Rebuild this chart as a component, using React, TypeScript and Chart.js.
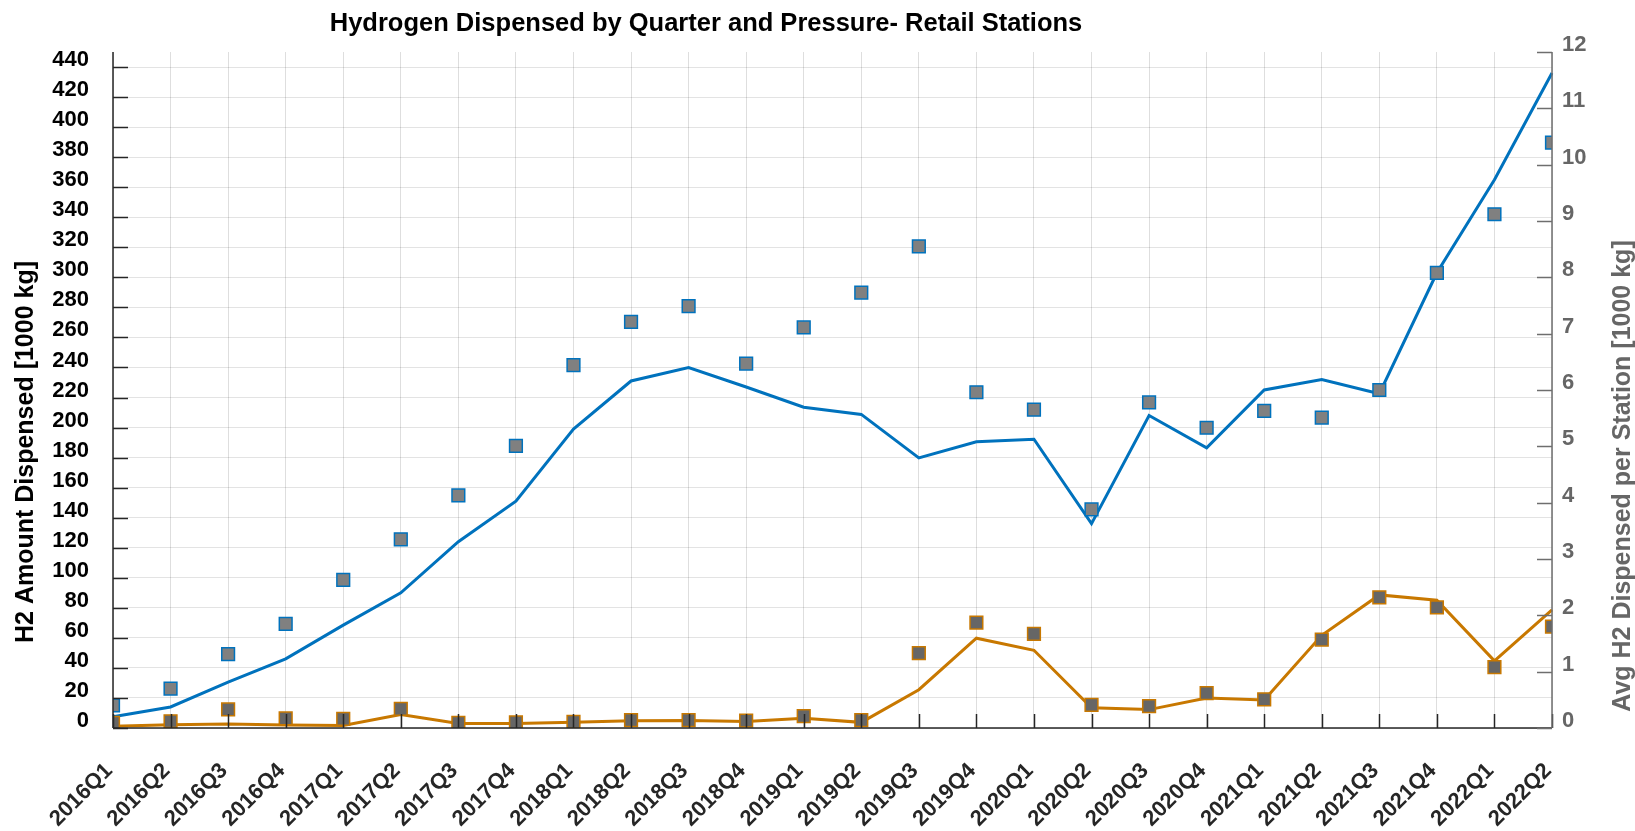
import React, { useEffect, useRef } from "react";
import { Chart, registerables } from "chart.js";

Chart.register(...registerables);

const quarters = [
  "2016Q1", "2016Q2", "2016Q3", "2016Q4",
  "2017Q1", "2017Q2", "2017Q3", "2017Q4",
  "2018Q1", "2018Q2", "2018Q3", "2018Q4",
  "2019Q1", "2019Q2", "2019Q3", "2019Q4",
  "2020Q1", "2020Q2", "2020Q3", "2020Q4",
  "2021Q1", "2021Q2", "2021Q3", "2021Q4",
  "2022Q1", "2022Q2",
];

// Total H2 dispensed [1000 kg] (left axis, lines)
const totalH70 = [
  7.5, 14, 30.5, 46, 68.5, 90, 124, 151, 199, 231, 240, 227, 213.5, 208.75,
  179.75, 190.5, 192.25, 136, 208, 186.5, 225, 232, 222.5, 303, 365, 436,
];
const totalH35 = [
  1.2, 2.2, 2.7, 2, 1.7, 9, 3, 3, 3.75, 4.75, 5, 4.25, 6.5, 3.75, 25.5,
  59.75, 51.75, 13.5, 12.25, 19.9, 18.7, 61.7, 88.6, 85, 44.7, 78.7,
];

// Average H2 dispensed per station [1000 kg] (right axis, squares)
const avgH70 = [
  0.4, 0.7, 1.31, 1.85, 2.63, 3.35, 4.13, 5.01, 6.44, 7.21, 7.49, 6.47, 7.11,
  7.73, 8.55, 5.96, 5.65, 3.88, 5.78, 5.33, 5.63, 5.51, 6.0, 8.08, 9.12, 10.39,
];
const avgH35 = [
  0.09, 0.12, 0.33, 0.17, 0.16, 0.34, 0.09, 0.1, 0.11, 0.14, 0.14, 0.13, 0.21,
  0.14, 1.33, 1.87, 1.67, 0.41, 0.39, 0.62, 0.51, 1.57, 2.32, 2.14, 1.08, 1.8,
];

const TITLE = "Hydrogen Dispensed by Quarter and Pressure- Retail Stations";
const LEFT_TITLE = "H2 Amount Dispensed [1000 kg]";
const RIGHT_TITLE = "Avg H2 Dispensed per Station [1000 kg]";

const BLUE = "#0072BD";
const ORANGE = "#C87800";
const FONT = "'Liberation Sans', Arial, Helvetica, sans-serif";

const decorPlugin = {
  id: "decor",
  afterDraw(chart: any) {
    const { ctx, chartArea: a, scales } = chart;
    const seg = (x1: number, y1: number, x2: number, y2: number) => {
      ctx.beginPath();
      ctx.moveTo(x1, y1);
      ctx.lineTo(x2, y2);
      ctx.stroke();
    };
    ctx.save();
    // left + bottom axes
    ctx.strokeStyle = "#262626";
    ctx.lineWidth = 1.5;
    seg(a.left, a.top, a.left, a.bottom);
    seg(a.left, a.bottom, a.right, a.bottom);
    scales.y.ticks.forEach((t: any) => {
      const py = Math.round(scales.y.getPixelForValue(t.value)) + 0.5;
      seg(a.left, py, a.left + 15, py);
    });
    quarters.forEach((_, i) => {
      const px = Math.round(scales.x.getPixelForTick(i)) + 0.5;
      seg(px, a.bottom, px, a.bottom - 14);
    });
    // right axis
    ctx.strokeStyle = "#6e6e6e";
    ctx.lineWidth = 1.5;
    seg(a.right, a.top, a.right, a.bottom);
    scales.y2.ticks.forEach((t: any) => {
      const py = Math.round(scales.y2.getPixelForValue(t.value)) + 0.5;
      seg(a.right - 15, py, a.right, py);
    });
    // titles
    ctx.fillStyle = "#000000";
    ctx.font = `bold 25.5px ${FONT}`;
    ctx.textAlign = "center";
    ctx.textBaseline = "alphabetic";
    ctx.fillText(TITLE, 706, 31);

    ctx.font = `bold 25px ${FONT}`;
    ctx.save();
    ctx.translate(33, 452);
    ctx.rotate(-Math.PI / 2);
    ctx.fillStyle = "#000000";
    ctx.fillText(LEFT_TITLE, 0, 0);
    ctx.restore();

    ctx.save();
    ctx.translate(1630, 476);
    ctx.rotate(-Math.PI / 2);
    ctx.fillStyle = "#666666";
    ctx.fillText(RIGHT_TITLE, 0, 0);
    ctx.restore();

    ctx.restore();
  },
};

export default function App() {
  const ref = useRef<HTMLCanvasElement | null>(null);

  useEffect(() => {
    document.body.style.margin = "0";
    const canvas = ref.current;
    if (!canvas) return;
    const chart = new Chart(canvas, {
      type: "line",
      data: {
        labels: quarters,
        datasets: [
          {
            label: "Avg H70 per station",
            data: avgH70,
            yAxisID: "y2",
            showLine: false,
            pointStyle: "rect",
            pointRadius: 9,
            pointBackgroundColor: "#808080",
            pointBorderColor: BLUE,
            pointBorderWidth: 1.5,
            borderColor: BLUE,
            backgroundColor: "#808080",
            clip: 0,
            order: 1,
          },
          {
            label: "Avg H35 per station",
            data: avgH35,
            yAxisID: "y2",
            showLine: false,
            pointStyle: "rect",
            pointRadius: 9,
            pointBackgroundColor: "#666666",
            pointBorderColor: ORANGE,
            pointBorderWidth: 1.5,
            borderColor: ORANGE,
            backgroundColor: "#666666",
            clip: 0,
            order: 1,
          },
          {
            label: "Total H70",
            data: totalH70,
            yAxisID: "y",
            borderColor: BLUE,
            borderWidth: 3,
            pointRadius: 0,
            fill: false,
            tension: 0,
            order: 2,
          },
          {
            label: "Total H35",
            data: totalH35,
            yAxisID: "y",
            borderColor: ORANGE,
            borderWidth: 3,
            pointRadius: 0,
            fill: false,
            tension: 0,
            order: 2,
          },
        ],
      },
      options: {
        responsive: false,
        animation: false,
        devicePixelRatio: 1,
        layout: { padding: { top: 52, left: 0, right: 0, bottom: 0 } },
        plugins: {
          legend: { display: false },
          title: { display: false },
          tooltip: { enabled: false },
        },
        scales: {
          x: {
            type: "category",
            offset: false,
            border: { display: false },
            grid: { color: "rgba(0,0,0,0.13)", lineWidth: 1, drawTicks: false },
            ticks: {
              autoSkip: false,
              maxRotation: 45,
              minRotation: 45,
              padding: 30,
              labelOffset: -4,
              color: "#262626",
              font: { family: FONT, size: 22, weight: "bold" },
            },
            afterFit: (s: any) => {
              s.height = 103;
            },
          },
          y: {
            position: "left",
            min: 0,
            max: 450,
            border: { display: false },
            grid: { color: "rgba(0,0,0,0.11)", lineWidth: 1, drawTicks: false },
            ticks: {
              stepSize: 20,
              includeBounds: false,
              padding: 24,
              labelOffset: -7,
              color: "#000000",
              font: { family: FONT, size: 22, weight: "bold" },
            },
            afterBuildTicks: (s: any) => {
              s.ticks = s.ticks.filter((t: any) => t.value % 20 === 0);
            },
            afterFit: (s: any) => {
              s.width = 113;
            },
          },
          y2: {
            position: "right",
            min: 0,
            max: 12,
            border: { display: false },
            grid: { drawOnChartArea: false, drawTicks: false },
            ticks: {
              stepSize: 1,
              padding: 10,
              labelOffset: -7,
              color: "#666666",
              font: { family: FONT, size: 22, weight: "bold" },
            },
            afterFit: (s: any) => {
              s.width = 83;
            },
          },
        },
      },
      plugins: [decorPlugin],
    });
    return () => chart.destroy();
  }, []);

  return (
    <div style={{ position: "absolute", left: 0, top: 0, width: 1635, height: 831, background: "#ffffff" }}>
      <canvas ref={ref} width={1635} height={831} style={{ display: "block" }} />
    </div>
  );
}
